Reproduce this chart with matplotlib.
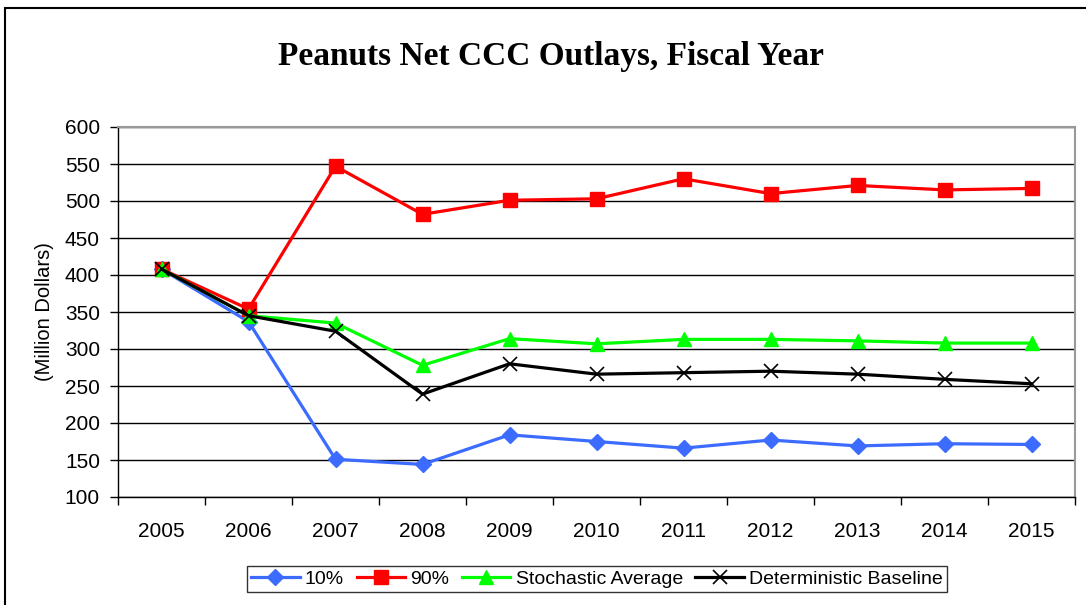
import matplotlib.pyplot as plt
from matplotlib.patches import Rectangle

# Datos
years = ['2005', '2006', '2007', '2008', '2009', '2010', '2011', '2012', '2013', '2014', '2015']
p10 = [408, 337, 151, 144, 184, 175, 166, 177, 169, 172, 171]
p90 = [408, 354, 547, 482, 501, 503, 530, 510, 521, 515, 517]
stoch_avg = [408, 345, 335, 278, 314, 307, 313, 313, 311, 308, 308]
det_base = [408, 345, 324, 239, 280, 266, 268, 270, 266, 259, 253]

plt.rcParams['font.family'] = ['Liberation Sans', 'DejaVu Sans']

fig = plt.figure(figsize=(10.86, 6.05), dpi=100)
ax = fig.add_axes([118 / 1086, 1 - 497 / 605, (1075 - 118) / 1086, (497 - 127) / 605])

x = range(len(years))
ax.plot(x, p10, color='#3B6BFF', lw=2.3, marker='D', ms=8, label='10%')
ax.plot(x, p90, color='#FF0000', lw=2.3, marker='s', ms=10, label='90%')
ax.plot(x, stoch_avg, color='#00FF00', lw=2.3, marker='^', ms=10, label='Stochastic Average')
ax.plot(x, det_base, color='black', lw=2.3, marker='x', ms=10, mew=1.2, label='Deterministic Baseline')

ax.set_xlim(-0.5, len(years) - 0.5)
ax.set_ylim(100, 600)
ax.set_yticks(range(100, 601, 50))
ax.set_xticks(x)
ax.set_xticklabels(years)
ax.set_xticks([i - 0.5 for i in range(len(years) + 1)], minor=True)
ax.tick_params(axis='x', which='major', length=0, labelsize=15, pad=18)
ax.tick_params(axis='x', which='minor', length=6, width=1, direction='out')
ax.tick_params(axis='y', length=6, width=1, direction='out', labelsize=15, pad=7)
ax.grid(axis='y', color='black', lw=1)
ax.set_axisbelow(True)

for s in ['top', 'right']:
    ax.spines[s].set_color('#999999')
    ax.spines[s].set_linewidth(1.5)
for s in ['left', 'bottom']:
    ax.spines[s].set_color('black')
    ax.spines[s].set_linewidth(1)

ax.set_ylabel('(Million Dollars)', fontsize=14.5)
ax.yaxis.set_label_coords((54 - 118) / 957, 0.5)

fig.text(551 / 1086, 1 - 56 / 605, 'Peanuts Net CCC Outlays, Fiscal Year',
         family=['Liberation Serif', 'DejaVu Serif'], weight='bold', fontsize=24,
         ha='center', va='center')

leg = fig.legend(loc='center', bbox_to_anchor=(597 / 1086, 1 - 579 / 605), ncol=4,
                 fontsize=14, frameon=True, fancybox=False, edgecolor='black',
                 handlelength=2.5, handletextpad=0.26, columnspacing=0.65,
                 borderpad=0.2, borderaxespad=0)
leg.get_frame().set_linewidth(1)

# Marco exterior del gráfico
fig.patches.append(Rectangle((5 / 1086, -0.1), 1.2, 1 - 7.5 / 605 + 0.1,
                             transform=fig.transFigure, fill=False,
                             edgecolor='black', lw=1.5))

plt.savefig('out.png', dpi=100)
